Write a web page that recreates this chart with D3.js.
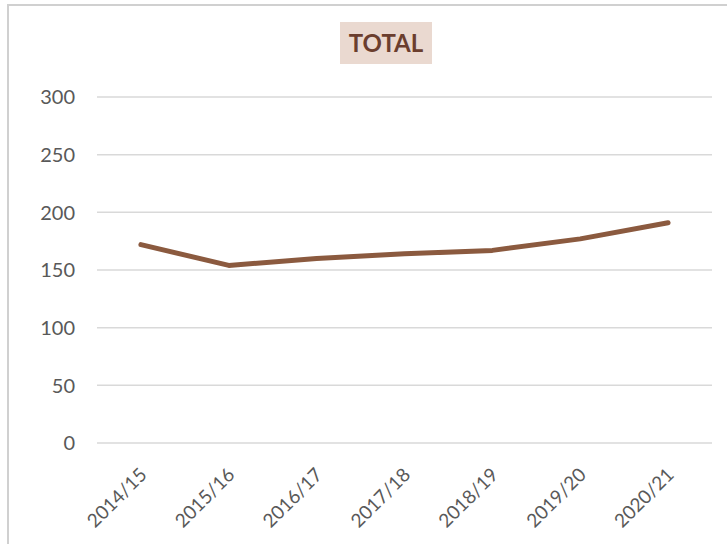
<!DOCTYPE html>
<html>
<head>
<meta charset="utf-8">
<script src="https://cdn.jsdelivr.net/npm/d3@7"></script>
<style>
  body { margin: 0; background: #fff; }
  svg { display: block; }
</style>
</head>
<body>
<div id="chart"></div>
<script>
// data
const years = ['2014/15', '2015/16', '2016/17', '2017/18', '2018/19', '2019/20', '2020/21'];
const totals = [172, 154, 160, 164, 167, 177, 191];
const yTicks = [0, 50, 100, 150, 200, 250, 300];
const title = 'TOTAL';

const width = 727, height = 544;
const font = 'Lato, "Open Sans", "Liberation Sans", sans-serif';

const svg = d3.select('#chart').append('svg')
    .attr('width', width)
    .attr('height', height);

// outer chart frame
svg.append('rect')
    .attr('x', 8).attr('y', 5)
    .attr('width', width).attr('height', height)
    .attr('fill', 'none')
    .attr('stroke', '#d0d0d0')
    .attr('stroke-width', 2);

const x = d3.scaleBand().domain(years).range([97, 712]);
const y = d3.scaleLinear().domain([0, 300]).range([443, 97]);

// gridlines
svg.append('g')
    .selectAll('line')
    .data(yTicks)
    .enter().append('line')
    .attr('x1', 97).attr('x2', 712)
    .attr('y1', d => y(d)).attr('y2', d => y(d))
    .attr('stroke', '#d9d9d9')
    .attr('stroke-width', 1.5);

// y labels
svg.append('g')
    .selectAll('text')
    .data(yTicks)
    .enter().append('text')
    .attr('x', 75)
    .attr('y', d => y(d))
    .attr('dy', '0.36em')
    .attr('text-anchor', 'end')
    .attr('font-family', font)
    .attr('font-size', 20)
    .attr('fill', '#595959')
    .text(d => d);

// x labels, rotated
svg.append('g')
    .selectAll('text')
    .data(years)
    .enter().append('text')
    .attr('transform', d => `translate(${x(d) + x.bandwidth() / 2 + 7},${476}) rotate(-45)`)
    .attr('text-anchor', 'end')
    .attr('font-family', font)
    .attr('font-size', 19)
    .attr('fill', '#595959')
    .text(d => d);

// line
const line = d3.line()
    .x((d, i) => x(years[i]) + x.bandwidth() / 2)
    .y(d => y(d));

svg.append('path')
    .datum(totals)
    .attr('d', line)
    .attr('fill', 'none')
    .attr('stroke', '#8b5a3f')
    .attr('stroke-width', 5)
    .attr('stroke-linecap', 'round')
    .attr('stroke-linejoin', 'round');

// title box
svg.append('rect')
    .attr('x', 340).attr('y', 22)
    .attr('width', 92).attr('height', 42)
    .attr('fill', '#ead9d0');

svg.append('text')
    .attr('x', 386).attr('y', 43)
    .attr('dy', '0.36em')
    .attr('text-anchor', 'middle')
    .attr('font-family', font)
    .attr('font-size', 24)
    .attr('font-weight', 'bold')
    .attr('fill', '#6b3e2e')
    .text(title);
</script>
</body>
</html>
